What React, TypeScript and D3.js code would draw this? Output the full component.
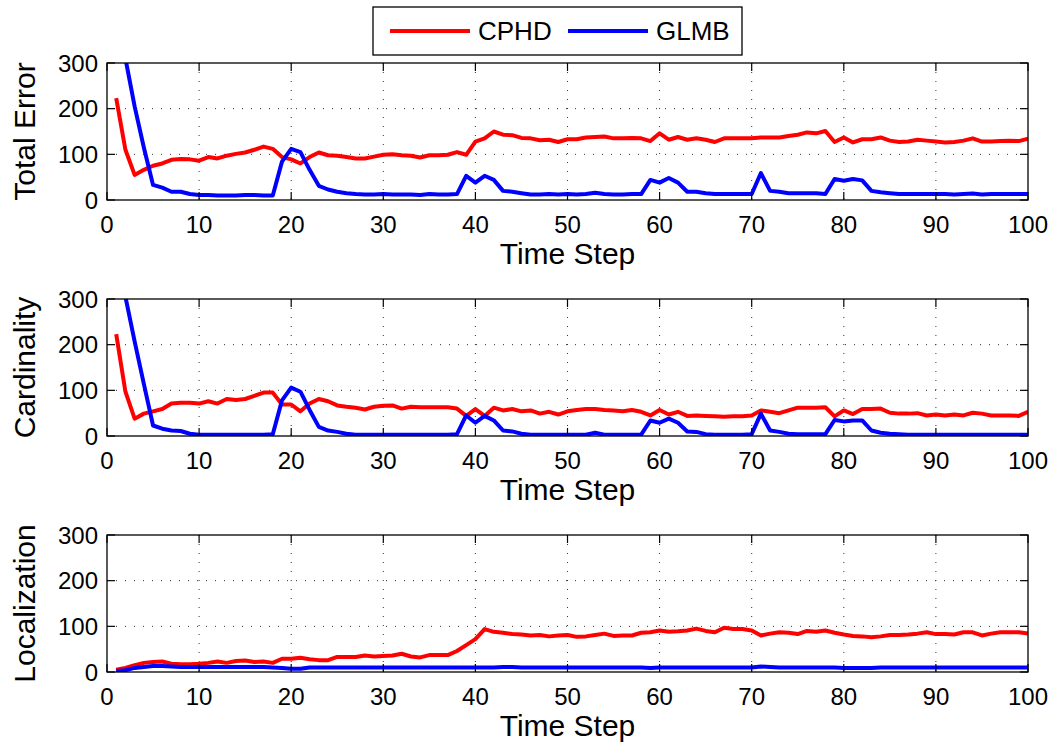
import React from "react";
import * as d3 from "d3";

const steps: number[] = d3.range(1, 101);

const cphdTotal = [
  223, 110, 55, 66, 75, 80, 88, 90, 89, 86,
  94, 91, 97, 101, 104, 110, 117, 112, 94, 89,
  80, 94, 104, 98, 97, 94, 91, 91, 95, 99,
  100, 98, 97, 93, 98, 98, 99, 105, 99, 128,
  135, 150, 143, 142, 136, 135, 131, 132, 127, 133,
  133, 137, 138, 139, 135, 135, 136, 135, 129, 146,
  132, 138, 132, 135, 132, 127, 135, 135, 135, 135,
  137, 137, 137, 140, 143, 148, 146, 151, 127, 137,
  126, 133, 133, 137, 130, 127, 128, 132, 130, 128,
  126, 127, 130, 135, 128, 128, 129, 130, 129, 134,
];
const glmbTotal = [
  400, 310, 205, 115, 33, 27, 18, 18, 13, 11,
  11, 10, 10, 10, 11, 11, 10, 10, 84, 112,
  105, 66, 31, 23, 18, 15, 13, 12, 12, 13,
  12, 12, 12, 11, 13, 12, 12, 13, 53, 38,
  53, 44, 20, 18, 15, 12, 12, 13, 12, 13,
  12, 13, 16, 13, 12, 12, 13, 13, 44, 38,
  48, 38, 18, 18, 15, 13, 13, 13, 13, 13,
  59, 20, 18, 15, 15, 15, 15, 13, 46, 42,
  46, 43, 20, 17, 15, 13, 13, 13, 13, 13,
  13, 12, 13, 14, 12, 13, 13, 13, 13, 13,
];
const cphdCard = [
  223, 97, 38, 49, 54, 59, 71, 73, 73, 71,
  76, 71, 81, 79, 81, 88, 95, 95, 69, 69,
  54, 71, 81, 76, 67, 64, 62, 58, 64, 66,
  67, 60, 64, 63, 63, 63, 63, 60, 44, 59,
  44, 62, 56, 59, 54, 56, 49, 53, 47, 54,
  57, 59, 59, 57, 56, 54, 57, 53, 45, 57,
  47, 53, 44, 45, 44, 43, 42, 43, 43, 45,
  56, 53, 50, 56, 62, 62, 62, 63, 43, 56,
  48, 59, 59, 60, 51, 49, 49, 50, 45, 47,
  45, 47, 45, 51, 49, 45, 45, 45, 44, 53,
];
const glmbCard = [
  330, 305, 207, 114, 23, 16, 12, 11, 5, 3,
  3, 3, 3, 3, 3, 3, 3, 4, 78, 106,
  97, 57, 20, 12, 9, 5, 3, 3, 3, 3,
  3, 3, 3, 3, 3, 3, 3, 4, 45, 29,
  44, 34, 12, 10, 5, 3, 3, 3, 3, 3,
  3, 3, 7, 3, 3, 3, 3, 3, 34, 29,
  38, 29, 10, 9, 4, 3, 3, 3, 3, 4,
  49, 12, 9, 5, 4, 4, 4, 4, 35, 32,
  34, 34, 12, 7, 5, 4, 3, 3, 3, 3,
  3, 3, 3, 3, 3, 3, 3, 3, 3, 3,
];
const cphdLoc = [
  5, 9, 15, 20, 22, 23, 18, 17, 17, 18,
  20, 23, 20, 24, 25, 22, 23, 20, 29, 29,
  31, 28, 26, 26, 33, 33, 33, 36, 34, 35,
  36, 40, 34, 32, 37, 37, 37, 46, 59, 72,
  94, 88, 86, 83, 82, 80, 81, 78, 80, 81,
  77, 78, 81, 84, 79, 80, 80, 86, 87, 91,
  88, 89, 91, 95, 90, 87, 97, 94, 94, 91,
  80, 84, 87, 86, 83, 90, 88, 91, 86, 82,
  79, 78, 76, 78, 81, 81, 82, 84, 87, 83,
  83, 82, 87, 87, 80, 84, 87, 87, 87, 84,
];
const glmbLoc = [
  2, 4, 9, 11, 13, 13, 12, 11, 11, 11,
  11, 11, 11, 11, 11, 11, 11, 10, 9, 7,
  7, 10, 10, 10, 10, 10, 10, 10, 10, 10,
  10, 10, 10, 10, 10, 10, 10, 10, 10, 10,
  10, 10, 11, 11, 10, 10, 10, 10, 10, 10,
  10, 10, 10, 10, 10, 10, 10, 10, 9, 10,
  10, 10, 10, 10, 10, 10, 10, 10, 10, 10,
  12, 11, 10, 10, 10, 10, 10, 10, 10, 9,
  9, 9, 9, 10, 10, 10, 10, 10, 10, 10,
  10, 10, 10, 10, 10, 10, 10, 10, 10, 10,
];

const xTicks = [0, 10, 20, 30, 40, 50, 60, 70, 80, 90, 100];
const yTicks = [0, 100, 200, 300];
const panelLabels = ["Total Error", "Cardinality", "Localization"];
const seriesNames = ["CPHD", "GLMB"];
const seriesColors = ["#ff0000", "#0000ff"];

const panels = [
  { label: panelLabels[0], series: [cphdTotal, glmbTotal], top: 63 },
  { label: panelLabels[1], series: [cphdCard, glmbCard], top: 299 },
  { label: panelLabels[2], series: [cphdLoc, glmbLoc], top: 535 },
];

const W = 1062;
const H = 749;
const left = 107;
const right = 1028;
const ph = 137;
const font = "'Liberation Sans', Arial, Helvetica, sans-serif";
const tickLen = 8;

export default function App() {
  const x = d3.scaleLinear().domain([0, 100]).range([left, right]);
  return (
    <svg
      width={W}
      height={H}
      style={{ position: "absolute", left: 0, top: 0, background: "#fff" }}
      fontFamily={font}
    >
      <defs>
        {panels.map((p, i) => (
          <clipPath id={`clip${i}`} key={i}>
            <rect x={left} y={p.top} width={right - left} height={ph} />
          </clipPath>
        ))}
      </defs>
      {panels.map((p, i) => {
        const y = d3.scaleLinear().domain([0, 300]).range([p.top + ph, p.top]);
        const line = d3
          .line<number>()
          .x((_, j) => x(steps[j]))
          .y((v) => y(v));
        const bottom = p.top + ph;
        return (
          <g key={i}>
            {/* grid */}
            {xTicks.slice(1, -1).map((t) => (
              <line
                key={`gx${t}`}
                x1={x(t)}
                x2={x(t)}
                y1={p.top}
                y2={bottom}
                stroke="#333"
                strokeWidth={1}
                strokeDasharray="1 8"
              />
            ))}
            {yTicks.slice(1, -1).map((t) => (
              <line
                key={`gy${t}`}
                x1={left}
                x2={right}
                y1={y(t)}
                y2={y(t)}
                stroke="#333"
                strokeWidth={1}
                strokeDasharray="1 8"
              />
            ))}
            {/* lines */}
            <g clipPath={`url(#clip${i})`}>
              {p.series.map((s, k) => (
                <path
                  key={k}
                  d={line(s) || ""}
                  fill="none"
                  stroke={seriesColors[k]}
                  strokeWidth={4}
                  strokeLinejoin="round"
                />
              ))}
            </g>
            {/* ticks */}
            {xTicks.map((t) => (
              <g key={`tx${t}`}>
                <line x1={x(t)} x2={x(t)} y1={bottom} y2={bottom - tickLen} stroke="#000" strokeWidth={1.2} />
                <line x1={x(t)} x2={x(t)} y1={p.top} y2={p.top + tickLen} stroke="#000" strokeWidth={1.2} />
                <text x={x(t)} y={bottom + 33} textAnchor="middle" fontSize={24} fill="#000">
                  {t}
                </text>
              </g>
            ))}
            {yTicks.map((t) => (
              <g key={`ty${t}`}>
                <line x1={left} x2={left + tickLen} y1={y(t)} y2={y(t)} stroke="#000" strokeWidth={1.2} />
                <line x1={right} x2={right - tickLen} y1={y(t)} y2={y(t)} stroke="#000" strokeWidth={1.2} />
                <text x={98} y={y(t)} dy="0.36em" textAnchor="end" fontSize={24} fill="#000">
                  {t}
                </text>
              </g>
            ))}
            {/* box */}
            <rect
              x={left}
              y={p.top}
              width={right - left}
              height={ph}
              fill="none"
              stroke="#000"
              strokeWidth={1.3}
            />
            <text
              x={(left + right) / 2}
              y={bottom + 64}
              textAnchor="middle"
              fontSize={30}
              fill="#000"
            >
              Time Step
            </text>
            <text
              transform={`translate(35,${p.top + ph / 2}) rotate(-90)`}
              textAnchor="middle"
              fontSize={30}
              fill="#000"
            >
              {p.label}
            </text>
          </g>
        );
      })}
      {/* legend */}
      <g>
        <rect x={373} y={7} width={369} height={48} fill="#fff" stroke="#000" strokeWidth={1.3} />
        {seriesNames.map((n, k) => {
          const x0 = k === 0 ? 390 : 568;
          return (
            <g key={n}>
              <line x1={x0} x2={x0 + 80} y1={31} y2={31} stroke={seriesColors[k]} strokeWidth={4} />
              <text x={x0 + 88} y={40} fontSize={26} fill="#000">
                {n}
              </text>
            </g>
          );
        })}
      </g>
    </svg>
  );
}
